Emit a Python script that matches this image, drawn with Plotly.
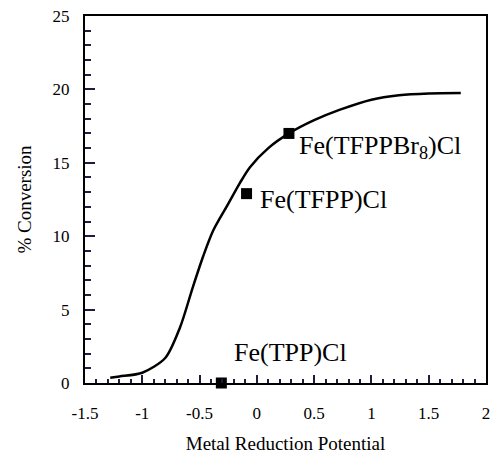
import plotly.graph_objects as go

# Fitted curve
curve_x = [-1.28, -1.2, -1.0, -0.8, -0.67, -0.56, -0.47, -0.38, -0.25, -0.15, -0.06, 0.1, 0.28, 0.5, 0.72, 1.0, 1.24, 1.5, 1.78]
curve_y = [0.36, 0.45, 0.7, 1.7, 3.8, 6.5, 8.6, 10.4, 12.2, 13.6, 14.7, 16.0, 17.0, 17.9, 18.6, 19.3, 19.6, 19.72, 19.75]

# Data points
compounds = ["Fe(TPP)Cl", "Fe(TFPP)Cl", "Fe(TFPPBr<sub>8</sub>)Cl"]
pot = [-0.31, -0.09, 0.28]
conv = [0.0, 12.9, 17.0]

x_ticks = [-1.5, -1, -0.5, 0, 0.5, 1, 1.5, 2]
x_ticktext = ["-1.5", "-1", "-0.5", "0", "0.5", "1", "1.5", "2"]
y_ticks = [0, 5, 10, 15, 20, 25]

X_RANGE = [-1.5, 2]
Y_RANGE = [0, 25]

FONT = "Liberation Serif"
TICKC = "rgb(30,30,60)"

fig = go.Figure()
fig.add_trace(go.Scatter(x=curve_x, y=curve_y, mode="lines",
                         line=dict(color="black", width=2.5, shape="spline", smoothing=0.8),
                         hoverinfo="skip", showlegend=False))
fig.add_trace(go.Scatter(x=pot, y=conv, mode="markers",
                         marker=dict(symbol="square", size=11, color="black"),
                         cliponaxis=False, showlegend=False))

# Labels (pixel offsets from the marker)
label_off = [(11, 31), (11, -6), (8, -14)]
for name, px, py, (dx, dy) in zip(compounds, pot, conv, label_off):
    fig.add_annotation(x=px, y=py, text=name, showarrow=False,
                       xanchor="left", yanchor="middle",
                       xshift=dx, yshift=dy,
                       font=dict(family=FONT, size=26, color="black"))

fig.update_layout(
    template="none",
    width=491, height=461,
    margin=dict(l=85, r=5, t=16, b=78),
    paper_bgcolor="white", plot_bgcolor="white",
    font=dict(family=FONT, size=17, color="black"),
)
fig.update_xaxes(range=X_RANGE, tickmode="array", tickvals=x_ticks, ticktext=x_ticktext,
                 ticks="inside", ticklen=8, tickwidth=2, tickcolor=TICKC,
                 minor=dict(tickmode="linear", tick0=-1.5, dtick=0.1, ticks="inside",
                            ticklen=4, tickwidth=1.5, tickcolor=TICKC, showgrid=False),
                 ticklabeloverflow="allow", ticklabelstandoff=14,
                 showline=True, linecolor="black", linewidth=2, mirror=True,
                 showgrid=False, zeroline=False,
                 title=dict(text="Metal Reduction Potential", standoff=14,
                            font=dict(family=FONT, size=19, color="black")))
fig.update_yaxes(range=Y_RANGE, tickmode="array", tickvals=y_ticks,
                 ticks="inside", ticklen=10, tickwidth=2, tickcolor=TICKC,
                 minor=dict(tickmode="linear", tick0=0, dtick=1, ticks="inside",
                            ticklen=6, tickwidth=1.5, tickcolor=TICKC, showgrid=False),
                 ticklabelstandoff=10,
                 showline=True, linecolor="black", linewidth=2, mirror=True,
                 showgrid=False, zeroline=False,
                 title=dict(text="% Conversion", standoff=16,
                            font=dict(family=FONT, size=19, color="black")))

fig.write_html("out.html")
